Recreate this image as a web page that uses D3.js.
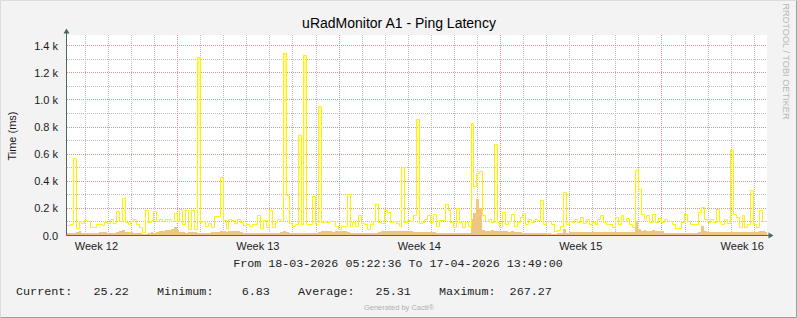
<!DOCTYPE html>
<html>
<head>
<meta charset="utf-8">
<script src="https://cdn.jsdelivr.net/npm/d3@7"></script>
<style>
  html, body { margin: 0; padding: 0; background: #f3f3f3; }
  svg { display: block; }
</style>
</head>
<body>
<svg id="chart"></svg>
<script>
const title = 'uRadMonitor A1 - Ping Latency';
const yLabel = 'Time (ms)';
const rangeText = 'From 18-03-2026 05:22:36 To 17-04-2026 13:49:00';
const rangeStart = new Date(2026, 2, 18, 5, 22, 36);
const rangeEnd = new Date(2026, 3, 17, 13, 49, 0);
const stepHours = 3;

const yTicks = [0, 200, 400, 600, 800, 1000, 1200, 1400];
const yMinorTicks = [100, 300, 500, 700, 900, 1100, 1300];

// yellow line, ms, one value every 3 h
const latencyPeak = [
  75, 78, 567, 48, 100, 90, 112, 100, 60, 62,
  80, 83, 75, 95, 85, 120, 85, 176, 100, 275,
  95, 83, 100, 118, 83, 58, 22, 181, 95, 112,
  176, 102, 115, 107, 120, 115, 102, 162, 100, 194,
  83, 181, 46, 181, 46, 1315, 95, 107, 70, 88,
  58, 137, 137, 425, 112, 53, 120, 112, 88, 120,
  95, 75, 83, 63, 78, 80, 144, 50, 112, 58,
  181, 62, 95, 120, 107, 1344, 292, 90, 70, 80,
  735, 83, 1330, 83, 83, 285, 83, 952, 95, 107,
  95, 100, 107, 70, 46, 70, 70, 301, 70, 95,
  70, 144, 90, 83, 46, 83, 107, 227, 95, 85,
  181, 170, 95, 107, 88, 70, 500, 95, 112, 100,
  144, 855, 88, 95, 120, 150, 95, 157, 70, 112,
  112, 230, 181, 95, 58, 200, 95, 58, 95, 70,
  830, 360, 458, 473, 144, 107, 120, 95, 670, 95,
  58, 170, 83, 107, 157, 65, 95, 132, 162, 83,
  120, 95, 120, 110, 261, 83, 102, 107, 83, 33,
  40, 70, 317, 83, 102, 95, 120, 95, 132, 88,
  120, 83, 95, 83, 120, 144, 95, 78, 83, 58,
  132, 83, 144, 107, 127, 83, 58, 478, 342, 157,
  120, 144, 95, 157, 95, 127, 95, 120, 100, 107,
  83, 52, 52, 95, 157, 107, 83, 83, 83, 170,
  206, 120, 95, 120, 95, 194, 95, 83, 120, 90,
  626, 157, 132, 58, 144, 58, 83, 335, 83, 58,
  181, 107, 100
];

// orange area, ms, same timestamps
const latencyAvg = [
  18, 18, 16, 20, 27, 18, 16, 18, 16, 15,
  18, 20, 22, 24, 18, 16, 18, 20, 30, 38,
  22, 20, 24, 18, 16, 12, 6.83, 10, 18, 20,
  18, 22, 28, 32, 36, 40, 46, 58, 40, 22,
  20, 18, 21, 19, 20, 18, 17, 18, 16, 18,
  20, 19, 22, 26, 27, 25, 28, 27, 26, 28,
  25, 18, 16, 15, 17, 16, 18, 15, 16, 17,
  16, 15, 16, 17, 22, 30, 20, 17, 16, 18,
  16, 17, 16, 15, 17, 16, 18, 22, 27, 26,
  28, 27, 25, 27, 28, 26, 27, 25, 14, 13,
  12, 13, 14, 12, 13, 12, 14, 18, 24, 27,
  26, 28, 27, 26, 28, 27, 26, 27, 28, 26,
  24, 22, 21, 20, 22, 21, 20, 19, 14, 13,
  12, 14, 13, 12, 13, 14, 12, 13, 14, 16,
  120, 160, 267.27, 200, 35, 33, 32, 34, 33, 30,
  27, 26, 27, 25, 26, 24, 22, 20, 18, 17,
  16, 16, 15, 16, 14, 12, 11, 12, 11, 10,
  12, 14, 46, 14, 20, 21, 22, 21, 20, 22,
  21, 20, 21, 22, 20, 21, 22, 21, 20, 19,
  21, 22, 20, 21, 22, 20, 24, 107, 45, 33,
  34, 32, 33, 34, 32, 30, 28, 18, 17, 16,
  17, 15, 16, 17, 16, 15, 16, 17, 18, 22,
  63, 30, 22, 21, 22, 20, 21, 22, 21, 20,
  22, 21, 20, 19, 21, 22, 20, 21, 22, 20,
  30, 26, 25.22
];

const legendLabels = ['Current:', 'Minimum:', 'Average:', 'Maximum:'];
const legendValues = ['25.22', '6.83', '25.31', '267.27'];

const W = 797, H = 318;
const plotLeft = 67, plotRight = 767, plotTop = 35, plotBottom = 235;
const sans = '"Liberation Sans", Arial, sans-serif';
const mono = '"Liberation Mono", "DejaVu Sans Mono", monospace';
const axisColor = '#4a6a60';

const x = d3.scaleTime().domain([rangeStart, rangeEnd]).range([plotLeft, plotRight]);
const y = d3.scaleLinear().domain([0, 1476]).range([plotBottom, plotTop]);
const px = v => Math.round(v) + 0.5;

const svg = d3.select('#chart').attr('width', W).attr('height', H);

svg.append('rect').attr('width', W).attr('height', H).attr('fill', '#f3f3f3');
svg.append('path')
    .attr('d', `M0.5,${H - 0.5}V0.5H${W - 0.5}`)
    .attr('fill', 'none').attr('stroke', '#dcdcdc');
svg.append('path')
    .attr('d', `M0.5,${H - 0.5}H${W - 0.5}V0.5`)
    .attr('fill', 'none').attr('stroke', '#9e9e9e');

svg.append('rect')
    .attr('x', plotLeft).attr('y', plotTop)
    .attr('width', plotRight - plotLeft).attr('height', plotBottom - plotTop)
    .attr('fill', '#fff');

// Grid
const days = d3.timeDay.range(d3.timeDay.ceil(rangeStart), rangeEnd)
    .filter(d => d.getDay() !== 1);
const mondays = d3.timeMonday.range(d3.timeDay.ceil(rangeStart), rangeEnd);

const grid = svg.append('g').attr('class', 'grid');
const gridLines = (data, vertical, color, cls) => grid.selectAll('line.' + cls)
    .data(data)
    .join('line')
    .attr('class', cls)
    .attr('x1', d => vertical ? px(x(d)) : plotLeft)
    .attr('x2', d => vertical ? px(x(d)) : plotRight)
    .attr('y1', d => vertical ? plotTop : px(y(d)))
    .attr('y2', d => vertical ? plotBottom : px(y(d)))
    .attr('stroke', color)
    .attr('stroke-width', 1)
    .attr('stroke-dasharray', '1,1');

gridLines(yMinorTicks, false, '#bdbdbd', 'hminor');
gridLines(days, true, '#bdbdbd', 'vminor');
gridLines(yTicks.filter(v => v > 0), false, '#de9494', 'hmajor');
gridLines(mondays, true, '#de9494', 'vmajor');

// Series
const points = vals => {
    const pts = vals.map((v, i) => ({t: d3.timeHour.offset(rangeStart, i * stepHours), v}));
    pts.push({t: rangeEnd, v: vals[vals.length - 1]});
    return pts;
};

const defs = svg.append('defs');
defs.append('clipPath').attr('id', 'plotClip')
    .append('rect')
    .attr('x', plotLeft).attr('y', plotTop)
    .attr('width', plotRight - plotLeft).attr('height', plotBottom - plotTop);

// pale fill under the peaks, fading out towards the baseline
const grad = defs.append('linearGradient')
    .attr('id', 'peakFill')
    .attr('gradientUnits', 'userSpaceOnUse')
    .attr('x1', 0).attr('x2', 0)
    .attr('y1', plotTop).attr('y2', y(130));
grad.append('stop').attr('offset', 0).attr('stop-color', '#fff56e').attr('stop-opacity', 0.95);
grad.append('stop').attr('offset', 1).attr('stop-color', '#fff56e').attr('stop-opacity', 0);

const series = svg.append('g').attr('clip-path', 'url(#plotClip)');

series.append('path')
    .datum(points(latencyAvg))
    .attr('d', d3.area()
        .x(d => Math.round(x(d.t)))
        .y0(y(0))
        .y1(d => Math.round(y(d.v)))
        .curve(d3.curveStepAfter))
    .attr('fill', '#f0c580');

const peakPts = points(latencyPeak);

series.append('path')
    .datum(peakPts)
    .attr('d', d3.area()
        .x(d => Math.round(x(d.t)))
        .y0(y(0))
        .y1(d => Math.round(y(d.v)))
        .curve(d3.curveStepAfter))
    .attr('fill', 'url(#peakFill)');

series.append('path')
    .datum(peakPts)
    .attr('d', d3.line()
        .x(d => px(x(d.t)))
        .y(d => px(y(d.v)))
        .curve(d3.curveStepAfter))
    .attr('fill', 'none')
    .attr('stroke', '#fff200')
    .attr('stroke-width', 1);

// Axes lines with arrows
svg.append('line')
    .attr('x1', plotLeft - 0.5).attr('x2', plotLeft - 0.5)
    .attr('y1', plotBottom + 0.5).attr('y2', plotTop - 2)
    .attr('stroke', axisColor);
svg.append('path')
    .attr('d', `M${plotLeft - 0.5},28.5L${plotLeft + 2.5},33.5L${plotLeft - 3.5},33.5Z`)
    .attr('fill', axisColor);
svg.append('line')
    .attr('x1', plotLeft - 0.5).attr('x2', plotRight + 2)
    .attr('y1', plotBottom + 0.5).attr('y2', plotBottom + 0.5)
    .attr('stroke', axisColor);
svg.append('path')
    .attr('d', `M${plotRight + 6.5},${plotBottom + 0.5}L${plotRight + 1.5},${plotBottom - 2.5}L${plotRight + 1.5},${plotBottom + 3.5}Z`)
    .attr('fill', axisColor);

// Y tick labels
const yAxis = d3.axisLeft(y)
    .tickValues(yTicks)
    .tickSize(0)
    .tickPadding(0)
    .tickFormat(v => v === 0 ? '0.0' : d3.format('.1f')(v / 1000) + ' k');

svg.append('g')
    .attr('class', 'yAxis')
    .attr('transform', `translate(58, 0.5)`)
    .call(yAxis)
    .call(g => g.select('.domain').remove())
    .selectAll('text')
    .style('font-family', sans)
    .style('font-size', '11px')
    .attr('fill', '#1a1a1a');

// Week labels, centred on each ISO week
const weekStarts = d3.timeMonday.range(d3.timeMonday.floor(rangeStart), rangeEnd)
    .map(m => ({m, mid: d3.timeHour.offset(m, 84)}))
    .filter(d => d.mid >= rangeStart && d.mid <= rangeEnd);

svg.append('g').selectAll('text')
    .data(weekStarts)
    .join('text')
    .attr('x', d => x(d.mid))
    .attr('y', 249.5)
    .attr('text-anchor', 'middle')
    .style('font-family', sans)
    .style('font-size', '11px')
    .attr('fill', '#1a1a1a')
    .text(d => 'Week ' + d3.timeFormat('%V')(d.m));

// Texts
svg.append('text')
    .attr('x', 399).attr('y', 28)
    .attr('text-anchor', 'middle')
    .style('font-family', sans).style('font-size', '14px')
    .attr('fill', '#000')
    .text(title);

svg.append('text')
    .attr('transform', 'translate(15.5,136) rotate(-90)')
    .attr('text-anchor', 'middle')
    .style('font-family', sans).style('font-size', '11px')
    .attr('fill', '#1a1a1a')
    .text(yLabel);

svg.append('text')
    .attr('x', 398).attr('y', 267.3)
    .attr('text-anchor', 'middle')
    .style('font-family', mono).style('font-size', '11.7px')
    .attr('fill', '#222')
    .text(rangeText);

const legendText = legendLabels.map((l, i) => l + legendValues[i].padStart(8)).join('    ');
svg.append('text')
    .attr('x', 16).attr('y', 295)
    .style('font-family', mono).style('font-size', '11.75px')
    .style('white-space', 'pre')
    .attr('fill', '#222')
    .text(legendText);

svg.append('text')
    .attr('x', 399).attr('y', 309.5)
    .attr('text-anchor', 'middle')
    .style('font-family', sans).style('font-size', '7.5px')
    .attr('fill', '#b0b0b0')
    .text('Generated by Cacti®');

svg.append('text')
    .attr('transform', 'translate(783,61.5) rotate(90)')
    .attr('text-anchor', 'middle')
    .style('font-family', sans).style('font-size', '9.2px')
    .attr('fill', '#b8b8b8')
    .text('RRDTOOL / TOBI OETIKER');
</script>
</body>
</html>
